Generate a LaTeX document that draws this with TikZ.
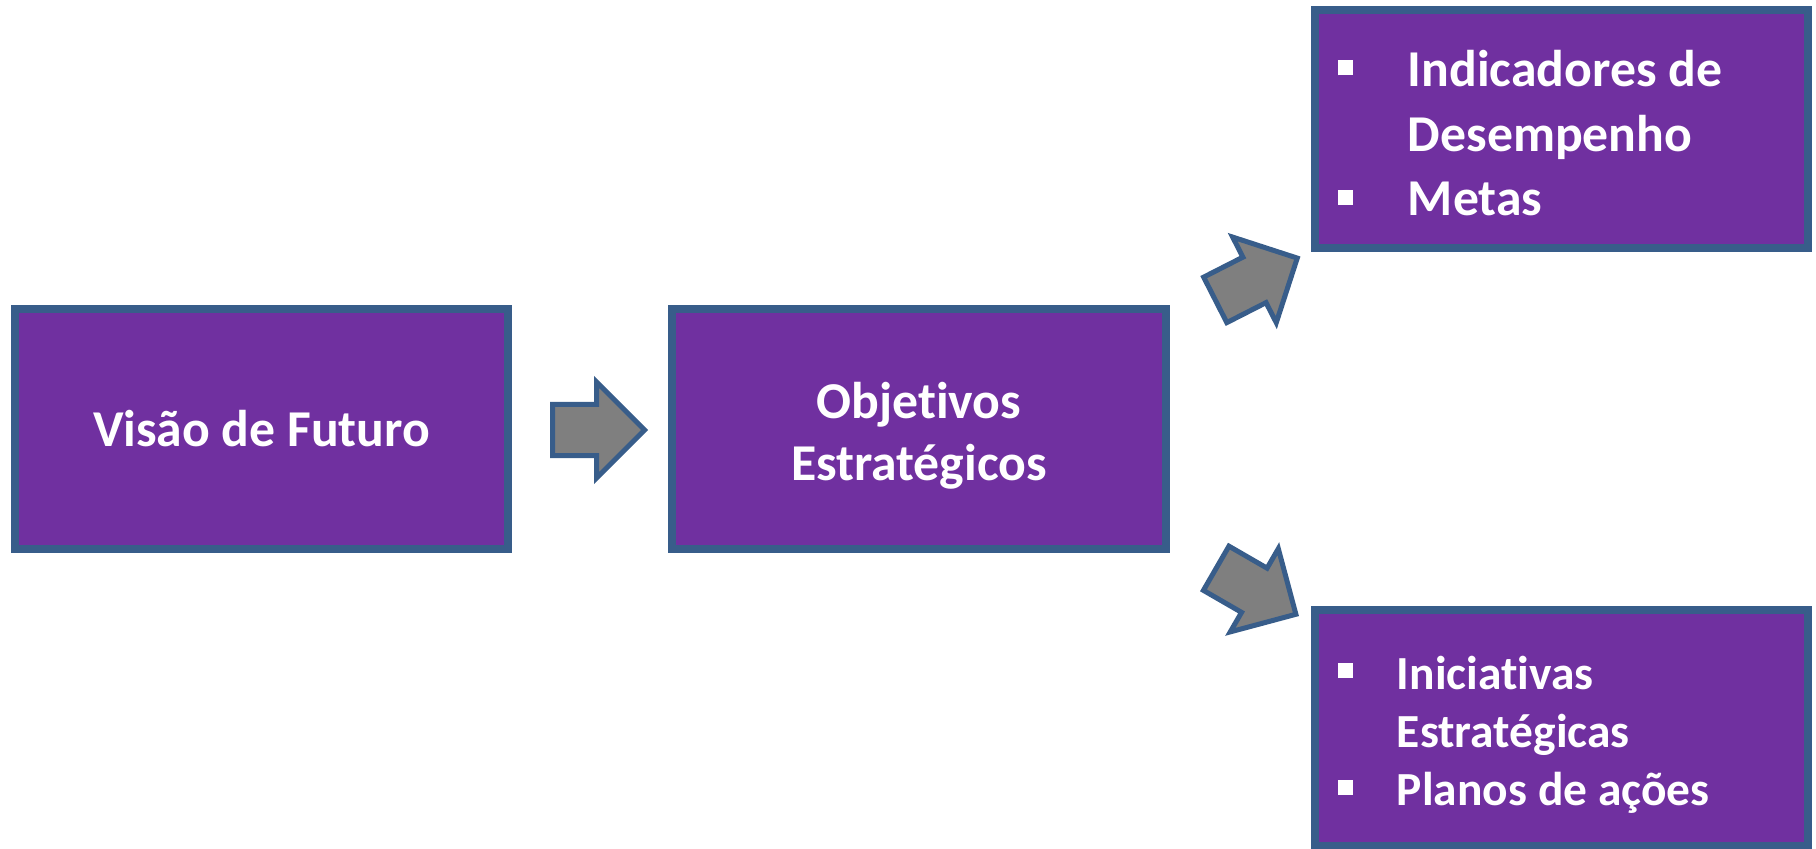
\documentclass[tikz,border=0pt]{standalone}
\usepackage{fontspec}
\setmainfont{Carlito}[Ligatures=NoCommon]
\usetikzlibrary{shapes.arrows}
\definecolor{roxo}{HTML}{7030A0}
\definecolor{contorno}{HTML}{385D8A}
\definecolor{cinza}{HTML}{7F7F7F}
\newcommand{\marca}[1]{\makebox[#1][l]{\raisebox{0.11cm}{\rule{0.15cm}{0.15cm}}}}
\tikzset{
  caixa/.style={draw=contorno, fill=roxo, line width=0.08cm, text=white,
    minimum width=4.93cm, font=\bfseries\fontsize{14.7}{17.6}\selectfont},
  lista/.style={caixa, text width=4.47cm, inner xsep=0.23cm, align=flush left},
  seta/.style={single arrow, draw=contorno, fill=cinza, line width=0.05cm,
    inner xsep=0pt, inner ysep=0.23cm, minimum height=0.92cm,
    single arrow head extend=0.225cm, anchor=tail}
}
\begin{document}
\begin{tikzpicture}[x=0.01cm,y=-0.01cm]
  \useasboundingbox (0,0) rectangle (1816,848);
  % caixas
  \node[caixa, minimum height=2.40cm, align=center, text height=1.11cm] (objetivos) at (919,429) {Objetivos\\Estratégicos};
  \node[caixa, minimum height=2.40cm, align=center] (visao) at (261.5,429) {Visão de Futuro};
  \node[lista, minimum height=2.38cm, text height=0.45cm, text depth=1.30cm,
    font=\bfseries\fontsize{14.7}{18.4}\selectfont] (indicadores) at (1561.5,129)
    {\marca{0.70cm}Indicadores de\\\hspace*{0.70cm}Desempenho\\\marca{0.70cm}Metas};
  \node[lista, minimum height=2.36cm, text height=0.47cm,
    font=\bfseries\fontsize{13.5}{16.6}\selectfont] (iniciativas) at (1561.5,728)
    {\marca{0.59cm}Iniciativas\\\hspace*{0.59cm}Estratégicas\\\marca{0.59cm}Planos de ações};
  % setas
  \node[seta] (seta1) at (550,430) {};
  \node[seta, rotate=27] (seta2) at (1213,301) {};
  \node[seta, rotate=-30] (seta3) at (1214,567) {};
\end{tikzpicture}
\end{document}
